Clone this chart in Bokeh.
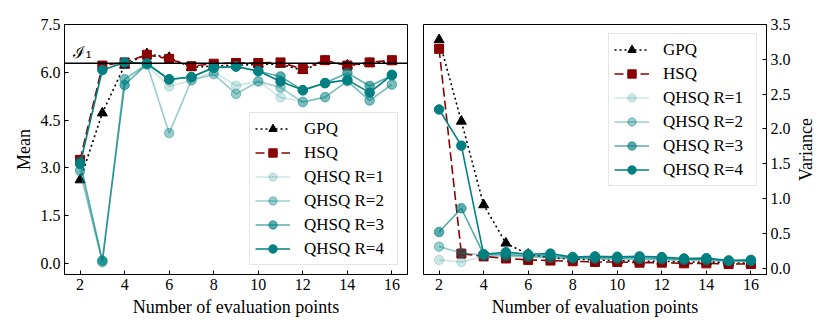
import math
from bokeh.plotting import figure
from bokeh.layouts import row
from bokeh.models import FixedTicker, PrintfTickFormatter, Legend, LegendItem, Range1d, Label, Span, Title
from bokeh.embed import file_html
from bokeh.resources import INLINE

# ---------------- data ----------------
n_points = [2, 3, 4, 5, 6, 7, 8, 9, 10, 11, 12, 13, 14, 15, 16]

gpq_mean = [2.62, 4.72, 6.22, 6.58, 6.46, 6.15, 6.20, 6.22, 6.25, 6.25, 6.06, 6.35, 6.22, 6.28, 6.33]
hsq_mean = [3.25, 6.21, 6.31, 6.55, 6.42, 6.19, 6.27, 6.29, 6.29, 6.31, 6.10, 6.38, 6.21, 6.31, 6.38]
r1_mean = [2.88, 0.03, 5.78, 6.22, 5.55, 5.75, 6.02, 5.58, 5.72, 5.21, 5.08, 5.22, 5.72, 5.12, 5.62]
r2_mean = [2.92, 0.05, 5.78, 6.26, 4.09, 5.75, 5.94, 5.32, 5.71, 5.52, 5.06, 5.22, 5.72, 5.11, 5.61]
r3_mean = [3.18, 0.09, 5.60, 6.26, 5.77, 5.85, 6.14, 6.18, 6.03, 5.87, 5.43, 5.66, 5.98, 5.57, 5.90]
r4_mean = [3.12, 6.07, 6.31, 6.28, 5.78, 5.85, 6.15, 6.18, 6.04, 5.71, 5.44, 5.66, 5.76, 5.36, 5.92]

gpq_var = [3.28, 2.11, 0.91, 0.36, 0.20, 0.15, 0.13, 0.12, 0.11, 0.10, 0.10, 0.09, 0.09, 0.08, 0.07]
hsq_var = [3.15, 0.21, 0.17, 0.14, 0.12, 0.11, 0.10, 0.09, 0.09, 0.08, 0.08, 0.07, 0.07, 0.06, 0.06]
r1_var = [0.12, 0.09, 0.17, 0.17, 0.16, 0.15, 0.14, 0.13, 0.13, 0.13, 0.12, 0.12, 0.11, 0.10, 0.10]
r2_var = [0.31, 0.22, 0.19, 0.18, 0.17, 0.15, 0.14, 0.14, 0.14, 0.13, 0.13, 0.12, 0.12, 0.10, 0.10]
r3_var = [0.52, 0.86, 0.20, 0.20, 0.18, 0.18, 0.15, 0.15, 0.15, 0.15, 0.14, 0.13, 0.13, 0.11, 0.11]
r4_var = [2.28, 1.76, 0.20, 0.23, 0.20, 0.21, 0.16, 0.17, 0.165, 0.17, 0.16, 0.14, 0.145, 0.11, 0.12]

x_ticks = [2, 4, 6, 8, 10, 12, 14, 16]
mean_ticks = [0.0, 1.5, 3.0, 4.5, 6.0, 7.5]
var_ticks = [0.0, 0.5, 1.0, 1.5, 2.0, 2.5, 3.0, 3.5]
reference_value = 2 * math.pi
reference_label = "ℐ₁"

series_names = ["GPQ", "HSQ", "QHSQ R=1", "QHSQ R=2", "QHSQ R=3", "QHSQ R=4"]

# ---------------- style ----------------
FONT = "Liberation Serif"
TEAL = "#008080"
RED = "#8b0000"
qhsq_alpha = [0.2, 0.4, 0.65, 1.0]


def style_fig(p, y_ticks, ylabel):
    p.xaxis.ticker = FixedTicker(ticks=x_ticks)
    p.xaxis.formatter = PrintfTickFormatter(format="%d")
    p.yaxis.ticker = FixedTicker(ticks=y_ticks)
    p.yaxis.formatter = PrintfTickFormatter(format="%.1f")
    p.xgrid.visible = False
    p.ygrid.visible = False
    p.outline_line_color = "black"
    p.outline_line_width = 1
    p.outline_line_alpha = 1
    for ax in (p.xaxis[0], p.yaxis[0]):
        ax.major_tick_in = 4
        ax.major_tick_out = 0
        ax.minor_tick_in = 0
        ax.minor_tick_out = 0
        ax.axis_line_color = "black"
        ax.major_tick_line_color = "black"
        ax.major_label_text_font = FONT
        ax.major_label_text_font_size = "16px"
        ax.major_label_text_color = "black"
        ax.axis_label_text_font = FONT
        ax.axis_label_text_font_size = "18px"
        ax.axis_label_text_font_style = "normal"
        ax.axis_label_text_color = "black"
        ax.major_label_standoff = 4
        ax.axis_label_standoff = 4
    p.xaxis.axis_label = "Number of evaluation points"
    if ylabel:
        p.yaxis.axis_label = ylabel


def draw_series(p, ys):
    gpq, hsq, r1, r2, r3, r4 = ys
    items = []
    l = p.line(n_points, gpq, line_color="black", line_width=1.6, line_dash="2 3")
    s = p.scatter(n_points, gpq, marker="triangle", size=10, color="black")
    items.append(LegendItem(label=series_names[0], renderers=[l, s]))
    l = p.line(n_points, hsq, line_color=RED, line_width=1.6, line_dash="9 4")
    s = p.scatter(n_points, hsq, marker="square", size=9, color=RED)
    items.append(LegendItem(label=series_names[1], renderers=[l, s]))
    for k, (vals, a) in enumerate(zip([r1, r2, r3, r4], qhsq_alpha)):
        l = p.line(n_points, vals, line_color=TEAL, line_width=1.6, line_alpha=a)
        s = p.scatter(n_points, vals, marker="circle", size=9.5, fill_color=TEAL,
                      line_color=TEAL, fill_alpha=a, line_alpha=a)
        items.append(LegendItem(label=series_names[2 + k], renderers=[l, s]))
    leg = Legend(items=items, location="bottom_right", margin=9, padding=5,
                 spacing=3, glyph_height=21, glyph_width=35, label_standoff=14,
                 label_width=88, label_text_font=FONT, label_text_font_size="17px",
                 label_text_color="black", border_line_color="#cccccc",
                 border_line_width=1, background_fill_alpha=0.8)
    return leg


# ---------------- left: mean ----------------
p1 = figure(frame_width=343, frame_height=250, output_backend="svg", toolbar_location=None,
            x_range=Range1d(1.3, 16.7), y_range=Range1d(-0.35, 7.5),
            min_border_left=64, min_border_right=13, min_border_top=24, min_border_bottom=50)
style_fig(p1, mean_ticks, "Mean")
p1.add_layout(Span(location=reference_value, dimension="width", line_color="black", line_width=1.5))
leg1 = draw_series(p1, [gpq_mean, hsq_mean, r1_mean, r2_mean, r3_mean, r4_mean])
leg1.location = "bottom_right"
p1.add_layout(leg1)
p1.add_layout(Label(x=1.7, y=reference_value, text=reference_label, y_offset=1,
                    text_font="DejaVu Serif", text_font_size="16px",
                    text_baseline="bottom", text_color="black"))

# ---------------- right: variance ----------------
p2 = figure(frame_width=343, frame_height=250, output_backend="svg", toolbar_location=None,
            x_range=Range1d(1.3, 16.7), y_range=Range1d(-0.09, 3.5), y_axis_location="right",
            min_border_left=3, min_border_right=23, min_border_top=24, min_border_bottom=50)
style_fig(p2, var_ticks, None)
leg2 = draw_series(p2, [gpq_var, hsq_var, r1_var, r2_var, r3_var, r4_var])
leg2.location = "top_right"
p2.add_layout(leg2)

# narrow strip carrying the right-hand axis title (reads bottom-to-top)
p3 = figure(frame_width=2, frame_height=250, output_backend="svg", toolbar_location=None,
            x_range=Range1d(0, 1), y_range=Range1d(0, 1), x_axis_type=None, y_axis_type=None,
            min_border_left=0, min_border_right=0, min_border_top=24, min_border_bottom=50,
            outline_line_color=None)
p3.xgrid.visible = False
p3.ygrid.visible = False
p3.add_layout(Title(text="Variance", align="center", text_font=FONT, text_font_size="18px",
                    text_font_style="normal", text_color="black", standoff=0, offset=0), "left")

layout = row(p1, p2, p3)
open("out.html", "w").write(file_html(layout, INLINE))
